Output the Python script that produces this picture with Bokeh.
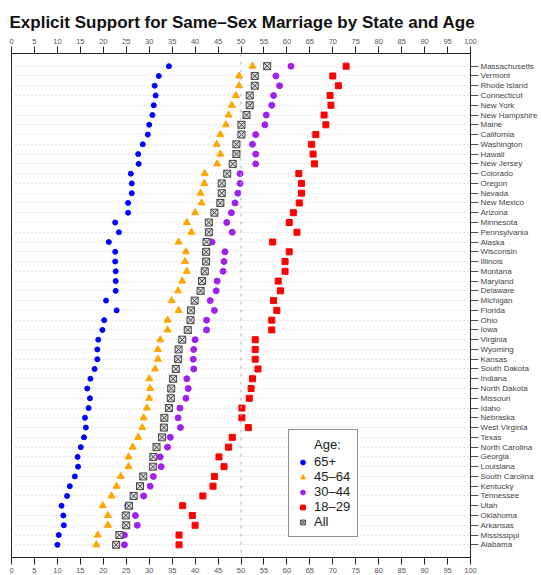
from bokeh.plotting import figure
from bokeh.models import (LinearAxis, FixedTicker, Span, Legend, LegendItem,
                          FactorRange, Range1d, ColumnDataSource)
from bokeh.embed import file_html
from bokeh.resources import INLINE

states = ["Massachusetts", "Vermont", "Rhode Island", "Connecticut", "New York",
          "New Hampshire", "Maine", "California", "Washington", "Hawaii",
          "New Jersey", "Colorado", "Oregon", "Nevada", "New Mexico", "Arizona",
          "Minnesota", "Pennsylvania", "Alaska", "Wisconsin", "Illinois",
          "Montana", "Maryland", "Delaware", "Michigan", "Florida", "Ohio", "Iowa",
          "Virginia", "Wyoming", "Kansas", "South Dakota", "Indiana",
          "North Dakota", "Missouri", "Idaho", "Nebraska", "West Virginia",
          "Texas", "North Carolina", "Georgia", "Louisiana", "South Carolina",
          "Kentucky", "Tennessee", "Utah", "Oklahoma", "Arkansas", "Mississippi",
          "Alabama"]

age_65_plus = [34.3, 32.1, 31.2, 31.4, 31.0, 30.7, 30.0, 29.7, 28.6, 27.6,
               27.7, 26.0, 26.2, 26.2, 25.4, 25.4, 22.6, 23.4, 21.2, 22.6,
               22.6, 22.7, 22.7, 22.7, 20.6, 22.9, 20.2, 19.8, 18.9, 18.7,
               18.7, 18.1, 17.2, 16.5, 17.1, 16.8, 16.0, 16.2, 15.8, 15.1,
               14.4, 14.5, 13.8, 12.7, 12.1, 10.9, 11.3, 11.4, 10.3, 10.0]

age_45_64 = [52.5, 49.6, 49.6, 48.9, 48.0, 47.3, 46.7, 45.5, 44.7, 45.5,
             44.8, 42.1, 42.0, 41.2, 41.4, 40.0, 38.2, 39.2, 36.4, 38.0,
             37.8, 38.2, 37.2, 36.3, 34.9, 36.4, 34.0, 34.0, 32.4, 31.9,
             31.9, 31.3, 30.0, 30.2, 30.0, 29.5, 28.8, 28.5, 27.6, 26.4,
             25.5, 25.5, 23.8, 22.9, 21.8, 19.9, 21.0, 21.0, 18.8, 18.5]

age_30_44 = [60.9, 57.6, 58.4, 57.1, 56.7, 55.5, 55.2, 53.2, 52.5, 53.2,
             53.2, 49.8, 49.8, 49.3, 48.7, 47.9, 46.9, 48.1, 43.7, 46.5,
             46.3, 46.1, 44.8, 44.6, 43.3, 44.2, 42.5, 42.5, 40.0, 39.7,
             39.6, 39.7, 38.2, 38.5, 38.0, 36.7, 36.3, 36.8, 34.6, 34.0,
             32.4, 32.6, 30.9, 30.2, 28.8, 25.3, 27.0, 27.4, 24.6, 24.6]

age_18_29 = [72.9, 70.0, 71.2, 69.4, 69.6, 68.1, 68.5, 66.3, 65.4, 65.7,
             66.0, 62.6, 63.2, 63.2, 62.7, 61.4, 60.5, 62.2, 56.9, 60.5,
             59.6, 59.6, 58.1, 58.6, 57.1, 57.8, 56.7, 56.7, 53.1, 53.1,
             53.1, 53.7, 52.5, 52.2, 51.8, 50.2, 50.2, 51.6, 48.1, 47.3,
             45.2, 46.3, 44.2, 43.9, 41.7, 37.3, 39.4, 40.0, 36.5, 36.5]

all_ages = [55.7, 53.0, 53.0, 51.9, 51.9, 51.2, 50.1, 50.1, 49.0, 49.0,
            48.2, 47.0, 45.8, 45.8, 45.5, 44.2, 43.0, 43.0, 42.5, 42.4,
            42.4, 42.1, 41.5, 41.2, 39.9, 39.1, 39.0, 38.4, 37.2, 36.4,
            36.3, 35.8, 35.2, 34.8, 34.7, 34.3, 33.3, 33.2, 32.8, 31.6,
            30.9, 30.8, 28.7, 28.0, 26.6, 25.6, 24.9, 25.0, 23.5, 22.8]

x_ticks = list(range(0, 101, 5))
reference_value = 50
title_text = "Explicit Support for Same\u2013Sex Marriage by State and Age"

src = ColumnDataSource(dict(state=states, a65=age_65_plus, a45=age_45_64,
                            a30=age_30_44, a18=age_18_29, all=all_ages))

FONT = "Liberation Sans"

p = figure(frame_width=459, frame_height=504,
           x_range=Range1d(0, 100),
           y_range=FactorRange(factors=states[::-1], range_padding=0.8,
                               range_padding_units="absolute"),
           x_axis_location="above", y_axis_location="right",
           output_backend="svg", toolbar_location=None,
           title=title_text, min_border_left=11, min_border_right=2,
           min_border_top=53, min_border_bottom=0)

p.title.text_font = FONT
p.title.text_font_size = "17px"
p.title.text_font_style = "bold"
p.title.text_color = "#111111"
p.title.offset = -2
p.title.standoff = 7

p.outline_line_color = "#222222"
p.outline_line_width = 1
p.background_fill_color = "white"
p.border_fill_color = "white"

def style_x(ax):
    ax.ticker = FixedTicker(ticks=x_ticks)
    ax.major_tick_out = 7
    ax.major_tick_in = 0
    ax.minor_tick_line_color = None
    ax.major_label_text_font = FONT
    ax.major_label_text_font_size = "7.5px"
    ax.major_label_text_color = "#555555"
    ax.major_label_standoff = 3
    ax.axis_line_color = "#222222"
    ax.major_tick_line_color = "#222222"

style_x(p.xaxis[0])
bottom_axis = LinearAxis()
style_x(bottom_axis)
p.add_layout(bottom_axis, "below")

ya = p.yaxis[0]
ya.major_tick_out = 8
ya.major_tick_in = 0
ya.major_label_text_font = FONT
ya.major_label_text_font_size = "8px"
ya.major_label_text_color = "#444444"
ya.major_label_standoff = 2
ya.axis_line_color = "#222222"
ya.major_tick_line_color = "#555555"

p.xgrid.grid_line_color = None
p.ygrid.grid_line_color = "#cccccc"
p.ygrid.grid_line_dash = "1 3"
p.ygrid.grid_line_width = 1

p.add_layout(Span(location=reference_value, dimension="height",
                  line_color="#b0b0b0", line_dash="3 5", line_width=1))

r65 = p.scatter("a65", "state", source=src, marker="circle", size=5,
                fill_color="#0000ff", line_color="#0000ff")
r45 = p.scatter("a45", "state", source=src, marker="triangle", size=7,
                fill_color="#ffa500", line_color="#ffa500")
r30 = p.scatter("a30", "state", source=src, marker="circle", size=6,
                fill_color="#a020f0", line_color="#a020f0")
r18 = p.scatter("a18", "state", source=src, marker="square", size=6,
                fill_color="#ff0000", line_color="#ff0000")
rall = p.scatter("all", "state", source=src, marker="square_x", size=7,
                 fill_color="#dddddd", line_color="#444444", line_width=1)

legend = Legend(items=[
    LegendItem(label="65+", renderers=[r65]),
    LegendItem(label="45\u201364", renderers=[r45]),
    LegendItem(label="30\u201344", renderers=[r30]),
    LegendItem(label="18\u201329", renderers=[r18]),
    LegendItem(label="All", renderers=[rall]),
], title="\u00a0\u00a0\u00a0\u00a0\u00a0Age:", location=(277, 20))
legend.title_text_font = FONT
legend.title_text_font_size = "13px"
legend.title_text_font_style = "normal"
legend.title_text_color = "#222222"
legend.title_standoff = 2
legend.label_text_font = FONT
legend.label_text_font_size = "13px"
legend.label_text_color = "#222222"
legend.glyph_width = 13
legend.glyph_height = 12
legend.label_height = 12
legend.spacing = 0
legend.padding = 7
legend.label_standoff = 5
legend.border_line_color = "#222222"
legend.border_line_width = 1
legend.background_fill_color = "white"
legend.background_fill_alpha = 1.0
legend.margin = 0
p.add_layout(legend, "center")

open("out.html", "w").write(file_html(p, INLINE))
